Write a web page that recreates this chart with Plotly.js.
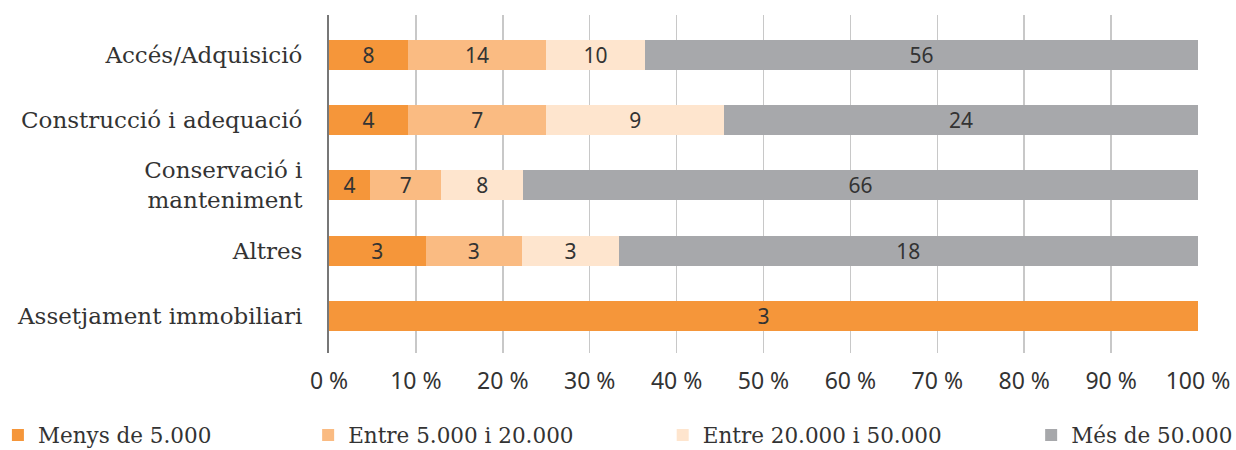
<!DOCTYPE html>
<html>
<head>
<meta charset="utf-8">
<script src="https://cdn.plot.ly/plotly-3.0.1.min.js"></script>
<style>html,body{margin:0;padding:0;background:#fff;}#chart{width:1236px;height:450px;}</style>
</head>
<body>
<div id="chart"></div>
<script>
const categories = ["Accés/Adquisició", "Construcció i adequació", "Conservació i<br>manteniment", "Altres", "Assetjament immobiliari"];
const seriesNames = ["Menys de 5.000", "Entre 5.000 i 20.000", "Entre 20.000 i 50.000", "Més de 50.000"];
const menys5000 = [8, 4, 4, 3, 3];
const entre5000_20000 = [14, 7, 7, 3, 0];
const entre20000_50000 = [10, 9, 8, 3, 0];
const mes50000 = [56, 24, 66, 18, 0];
const xTickVals = [0, 10, 20, 30, 40, 50, 60, 70, 80, 90, 100];

const seriesValues = [menys5000, entre5000_20000, entre20000_50000, mes50000];
const colors = ["#F5963A", "#FABB82", "#FEE5CE", "#A7A8AB"];
const legendIds = ["legend", "legend2", "legend3", "legend4"];

const traces = seriesValues.map((vals, i) => ({
  type: "bar",
  orientation: "h",
  name: seriesNames[i],
  y: categories,
  x: vals,
  text: vals.map(v => v ? String(v) : ""),
  textposition: "inside",
  insidetextanchor: "middle",
  textangle: 0,
  constraintext: "none",
  insidetextfont: {family: "Noto Sans, sans-serif", size: 21, color: "#333333"},
  marker: {color: colors[i], line: {width: 0}},
  legend: legendIds[i],
  hoverinfo: "skip"
}));

const legendBase = {orientation: "h", y: -0.243, yanchor: "middle", xanchor: "left",
  font: {family: "DejaVu Serif, serif", size: 21.5, color: "#333333"}, bgcolor: "rgba(0,0,0,0)"};

const layout = {
  width: 1236, height: 450,
  margin: {l: 329, r: 38, t: 15, b: 97, autoexpand: false},
  barmode: "stack",
  barnorm: "percent",
  bargap: 0.54,
  paper_bgcolor: "#ffffff",
  plot_bgcolor: "#ffffff",
  showlegend: true,
  xaxis: {
    range: [0, 100],
    tickvals: xTickVals,
    ticktext: xTickVals.map(v => v + " %"),
    showgrid: true, gridcolor: "#c8c8c8", gridwidth: 1.5,
    zeroline: false, showline: false, ticks: "",
    ticklabelstandoff: 12,
    automargin: false,
    tickfont: {family: "Noto Sans, sans-serif", size: 23, color: "#333333"},
    fixedrange: true
  },
  yaxis: {
    type: "category",
    range: [4.57, -0.61],
    showgrid: false, zeroline: false,
    showline: true, linecolor: "#777777", linewidth: 2,
    ticks: "", ticklabelstandoff: 20,
    automargin: false,
    tickfont: {family: "DejaVu Serif, serif", size: 23, color: "#333333"},
    fixedrange: true
  },
  legend: Object.assign({}, legendBase, {x: -0.381}),
  legend2: Object.assign({}, legendBase, {x: -0.024}),
  legend3: Object.assign({}, legendBase, {x: 0.384}),
  legend4: Object.assign({}, legendBase, {x: 0.808})
};

Plotly.newPlot("chart", traces, layout, {displayModeBar: false, staticPlot: true});
</script>
</body>
</html>
